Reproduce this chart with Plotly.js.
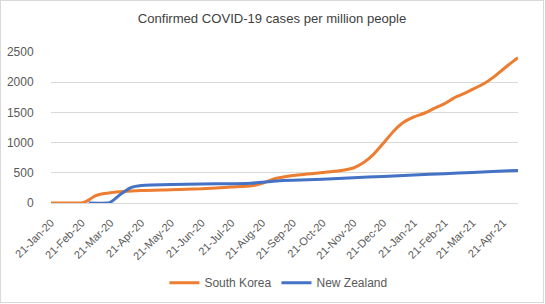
<!DOCTYPE html>
<html>
<head>
<meta charset="utf-8">
<script src="https://cdn.plot.ly/plotly-3.0.1.min.js"></script>
<style>
  html, body { margin: 0; padding: 0; background: #ffffff; }
  #frame { position: absolute; left: 0; top: 0; width: 542px; height: 301px; border: 1px solid #d9d9d9; }
  #chart { width: 542px; height: 301px; }
</style>
</head>
<body>
<div id="frame"><div id="chart"></div></div>
<script>
// ---- Data ----
const koreaDates = [
  "2020-01-21","2020-02-18","2020-02-22","2020-02-26","2020-03-01","2020-03-05","2020-03-10",
  "2020-03-21","2020-04-21","2020-05-21","2020-06-21","2020-07-21","2020-08-10","2020-08-21",
  "2020-08-27","2020-09-01","2020-09-21","2020-10-21","2020-11-07","2020-11-21","2020-12-01",
  "2020-12-11","2020-12-21","2020-12-31","2021-01-11","2021-01-21","2021-02-01","2021-02-11",
  "2021-02-21","2021-03-03","2021-03-13","2021-03-21","2021-04-01","2021-04-11","2021-04-21",
  "2021-05-01","2021-05-06"
];
const koreaValues = [
  0, 0, 5, 30, 70, 115, 142,
  170, 205, 218, 235, 265, 285, 325,
  362, 395, 455, 505, 535, 580, 665,
  800, 985, 1180, 1340, 1425, 1490, 1570,
  1645, 1745, 1815, 1880, 1970, 2080, 2215,
  2345, 2405
];

const nzDates = [
  "2020-02-28","2020-03-20","2020-03-25","2020-03-30","2020-04-05","2020-04-10","2020-04-15",
  "2020-04-21","2020-05-01","2020-05-21","2020-06-21","2020-07-21","2020-08-10","2020-08-21",
  "2020-09-01","2020-09-21","2020-10-21","2020-11-21","2020-12-21","2021-01-21","2021-02-21",
  "2021-03-21","2021-04-21","2021-05-06"
];
const nzValues = [
  0, 5, 60, 130, 200, 250, 275,
  290, 300, 305, 315, 320, 325, 345,
  362, 378, 395, 418, 440, 465, 485,
  505, 530, 540
];

const tickDates = [
  "2020-01-21","2020-02-21","2020-03-21","2020-04-21","2020-05-21","2020-06-21",
  "2020-07-21","2020-08-21","2020-09-21","2020-10-21","2020-11-21","2020-12-21",
  "2021-01-21","2021-02-21","2021-03-21","2021-04-21"
];
const tickLabels = [
  "21-Jan-20","21-Feb-20","21-Mar-20","21-Apr-20","21-May-20","21-Jun-20",
  "21-Jul-20","21-Aug-20","21-Sep-20","21-Oct-20","21-Nov-20","21-Dec-20",
  "21-Jan-21","21-Feb-21","21-Mar-21","21-Apr-21"
];
const yTicks = [0, 500, 1000, 1500, 2000, 2500];

const FONT = '"Liberation Sans", Arial, Helvetica, sans-serif';
const TXT = '#595959';

const traces = [
  { x: koreaDates, y: koreaValues, name: 'South Korea', type: 'scatter', mode: 'lines',
    line: { color: '#ED7D31', width: 3, shape: 'spline', smoothing: 0.5 } },
  { x: nzDates, y: nzValues, name: 'New Zealand', type: 'scatter', mode: 'lines',
    line: { color: '#4472C4', width: 3, shape: 'spline', smoothing: 0.5 } }
];

const layout = {
  width: 542, height: 301,
  margin: { l: 50, r: 25, t: 51, b: 99, pad: 0, autoexpand: false },
  paper_bgcolor: '#ffffff', plot_bgcolor: '#ffffff',
  font: { family: FONT, color: TXT, size: 12 },
  title: { text: 'Confirmed COVID-19 cases per million people',
           font: { family: FONT, size: 13.1, color: '#404040' },
           x: 0.5, xanchor: 'center', xref: 'container', y: 0.943, yanchor: 'middle' },
  xaxis: {
    type: 'date', range: ['2020-01-21', '2021-05-06'], automargin: false,
    tickmode: 'array', tickvals: tickDates, ticktext: tickLabels,
    tickangle: -45, tickfont: { family: FONT, size: 11, color: TXT },
    showgrid: false, zeroline: false, showline: false,
    ticks: 'outside', ticklen: 8, tickcolor: 'rgba(0,0,0,0)'
  },
  yaxis: {
    range: [0, 2500], tickmode: 'array', tickvals: yTicks, automargin: false,
    tickfont: { family: FONT, size: 12, color: TXT },
    showgrid: true, gridcolor: '#d9d9d9', gridwidth: 1,
    zeroline: true, zerolinecolor: '#d9d9d9', zerolinewidth: 1,
    showline: false, ticks: 'outside', ticklen: 14, tickcolor: 'rgba(0,0,0,0)'
  },
  legend: {
    orientation: 'h', x: 0.487, xanchor: 'center', y: -0.528, yanchor: 'middle',
    font: { family: FONT, size: 12, color: TXT }, bgcolor: 'rgba(0,0,0,0)'
  },
  showlegend: true
};

Plotly.newPlot('chart', traces, layout, { displayModeBar: false, staticPlot: true });
</script>
</body>
</html>
